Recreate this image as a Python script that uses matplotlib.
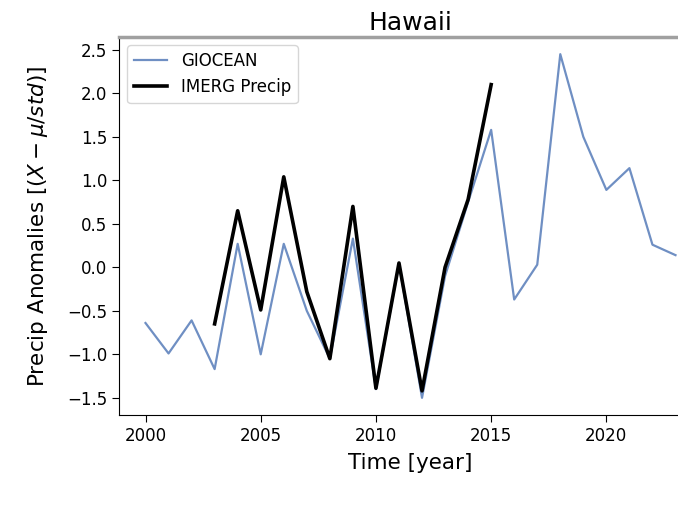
import matplotlib
matplotlib.use("Agg")
import matplotlib.pyplot as plt

years = list(range(2000, 2024))
giocean = [-0.64, -0.99, -0.61, -1.17, 0.27, -1.00, 0.27, -0.50, -1.05, 0.33,
           -1.40, 0.04, -1.50, -0.10, 0.75, 1.58, -0.37, 0.03, 2.45, 1.50,
           0.89, 1.14, 0.26, 0.14]

imerg_years = list(range(2003, 2016))
imerg = [-0.65, 0.65, -0.49, 1.04, -0.28, -1.05, 0.70, -1.39, 0.05, -1.42,
         0.00, 0.78, 2.10]

W, H = 678, 508
fig = plt.figure(figsize=(W / 100, H / 100), dpi=100)
left, right, bottom, top = 119, 702, 415, 37
ax = fig.add_axes([left / W, 1 - bottom / H, (right - left) / W, (bottom - top) / H])

ax.plot(years, giocean, color="#6f8fc3", lw=1.6, label="GIOCEAN")
ax.plot(imerg_years, imerg, color="black", lw=2.6, label="IMERG Precip")

ax.set_title("Hawaii", fontsize=18, pad=5)
ax.set_xlabel("Time [year]", fontsize=15.5, labelpad=6)
ax.set_ylabel(r"Precip Anomalies [$(X-\mu/std)$]", fontsize=15.5, labelpad=12)
ax.tick_params(labelsize=12, length=5)
ax.set_xticks([2000, 2005, 2010, 2015, 2020])
ax.set_yticks([-1.5, -1.0, -0.5, 0.0, 0.5, 1.0, 1.5, 2.0, 2.5])

ax.spines["top"].set_color("#a0a0a0")
ax.spines["top"].set_linewidth(2.5)

ax.legend(loc="upper left", fontsize=12)

fig.savefig("out.png", dpi=100)
